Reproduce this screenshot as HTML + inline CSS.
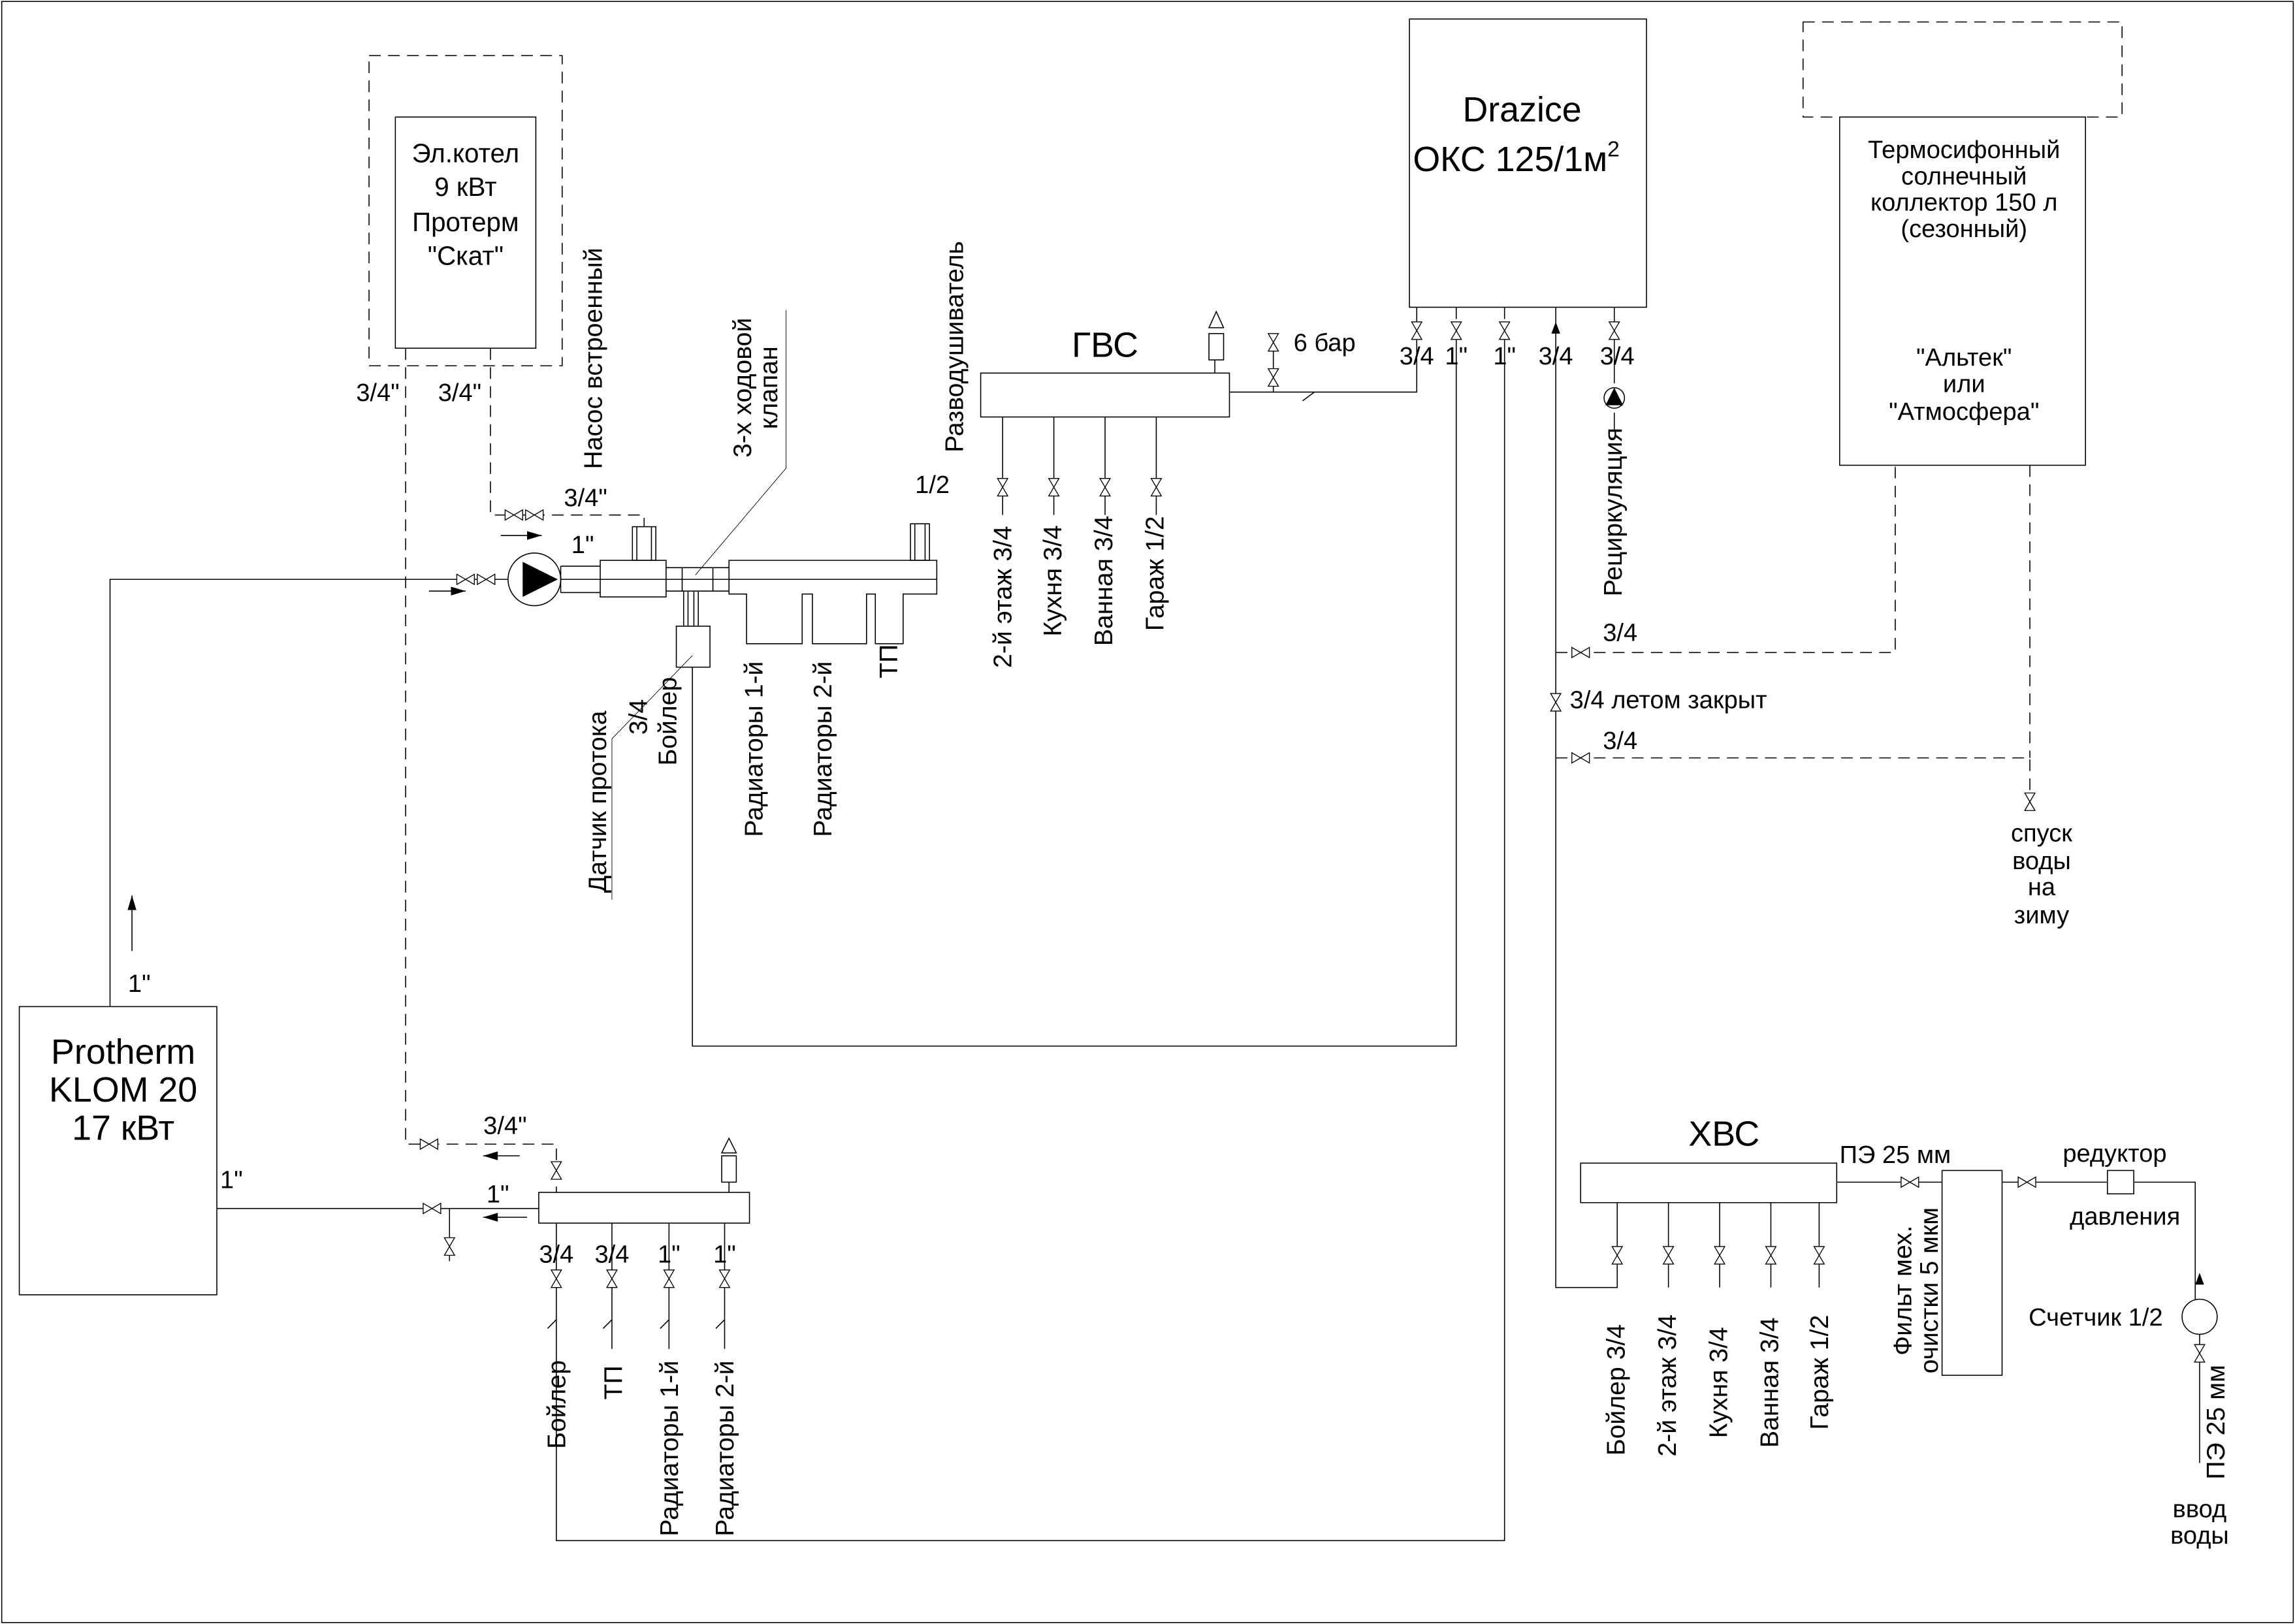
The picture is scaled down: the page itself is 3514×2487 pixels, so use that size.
<!DOCTYPE html>
<html><head><meta charset="utf-8"><style>
html,body{margin:0;padding:0;background:#fff}
svg{display:block}
text{font-family:"Liberation Sans",sans-serif;fill:#000}
</style></head><body>
<svg width="3514" height="2487" viewBox="0 0 1568 1110" xmlns="http://www.w3.org/2000/svg">
<defs>
<g id="vh"><path d="M-6,-3.5 L6,3.5 L6,-3.5 L-6,3.5 Z" fill="#fff" stroke="#000" stroke-width="0.6"/></g>
<g id="vv"><path d="M-3.5,-6 L3.5,6 L-3.5,6 L3.5,-6 Z" fill="#fff" stroke="#000" stroke-width="0.6"/></g>
</defs>
<g fill="none" stroke="#000" stroke-width="0.7">
<rect x="1" y="1" width="1566" height="1108"/>
<rect x="252" y="38" width="132" height="212" stroke-dasharray="8,5"/>
<rect x="270" y="80" width="96" height="158"/>
<path d="M277,238 V782 H380 V815" stroke-dasharray="8,5"/>
<path d="M335,238 V352 H440 V360" stroke-dasharray="8,5"/>
<path d="M75,688 V396 H347"/>
<circle cx="365" cy="396" r="18"/>
<path d="M383,387 H410 M383,405 H410 M383,387 V405"/>
<rect x="410" y="383" width="45" height="25"/>
<path d="M455,388 H498 M455,404 H498 M466,388 V404 M487,388 V404"/>
<path d="M498,383 H640 V406 H617 V440 H598 V406 H592 V440 H555 V406 H548 V440 H510 V406 H498 Z"/>
<path d="M383,396 H640"/>
<rect x="432" y="360" width="16" height="23"/>
<path d="M435,360 V383 M445,360 V383"/>
<rect x="622" y="358" width="13" height="25"/>
<path d="M625,358 V383 M632,358 V383"/>
<path d="M467,404 V428 M477,404 V428 M470,404 V428 M474,404 V428"/>
<rect x="462" y="428" width="23" height="28"/>
<path d="M475,393 L537,320 V212" stroke-width="0.4"/>
<path d="M473,448 L418,505 V615" stroke-width="0.4"/>
<path d="M473,456 V715 H995 V225"/>
<path d="M293,404 H318 M342,366 H370 M90,650 V612 M355,790 H330 M360,832 H330"/>
<rect x="13" y="688" width="135" height="197"/>
<path d="M148,826 H368 M307,826 V862"/>
<rect x="368" y="815" width="144" height="21"/>
<path d="M498,790 V815"/><rect x="493" y="790" width="10" height="18" fill="#fff"/>
<path d="M498,778 L493,788 H503 Z"/>
<path d="M380,836 V1053 H1028 V225"/>
<path d="M418,836 V922 M457,836 V922 M495,836 V922"/>
<path d="M374,908 L380,902 M412,908 L418,902 M451,908 L457,902 M489,908 L495,902"/>
<rect x="670" y="255" width="170" height="30"/>
<path d="M685,285 V352 M720,285 V352 M755,285 V352 M790,285 V352"/>
<path d="M830,246 V255"/><rect x="826" y="228" width="10" height="18"/><path d="M831,213 L826,224 H836 Z"/>
<path d="M840,268 H968 V215 M870,268 V228 M890,274 L898,268"/>
<rect x="963" y="13" width="162" height="197"/>
<path d="M968,210 V218 M995,210 V218 M1028,210 V218"/>
<path d="M1063,210 V880 H1105 V855 M1103,210 V262 M1103,282 V295"/>
<circle cx="1103" cy="272" r="7"/>
<path d="M1063,446 H1295 V318 M1063,518 H1387 V548 M1387,318 V518" stroke-dasharray="8,5"/>
<rect x="1232" y="15" width="218" height="65" stroke-dasharray="8,5"/>
<rect x="1257" y="80" width="168" height="238"/>
<rect x="1080" y="795" width="175" height="27"/>
<path d="M1140,822 V880 M1175,822 V880 M1210,822 V880 M1243,822 V880 M1105,822 V855"/>
<path d="M1255,808 H1327"/>
<rect x="1327" y="800" width="41" height="140"/>
<path d="M1368,808 H1440 M1458,808 H1500 V888 M1503,912 V1000"/>
<rect x="1440" y="800" width="18" height="16"/>
<circle cx="1503" cy="900" r="12"/>
</g>
<g fill="#000">
<path d="M357,384 L381,396 L357,408 Z"/>
<path d="M1097,277 L1103,265 L1109,277 Z"/>
<path d="M318,404 L308,401 L308,407 Z M370,366 L360,363 L360,369 Z M90,612 L87,622 L93,622 Z M330,790 L340,787 L340,793 Z M330,832 L340,829 L340,835 Z"/>
<path d="M1063,220 L1060,228 L1066,228 Z M1503,870 L1500,878 L1506,878 Z"/>
</g>
<use href="#vh" x="318" y="396"/><use href="#vh" x="332" y="396"/>
<use href="#vh" x="351" y="352"/><use href="#vh" x="365" y="352"/>
<use href="#vh" x="293" y="782"/><use href="#vh" x="295" y="826"/>
<use href="#vv" x="307" y="852"/><use href="#vv" x="380" y="800"/>
<use href="#vv" x="380" y="874"/><use href="#vv" x="418" y="874"/><use href="#vv" x="457" y="874"/><use href="#vv" x="495" y="874"/>
<use href="#vv" x="685" y="333"/><use href="#vv" x="720" y="333"/><use href="#vv" x="755" y="333"/><use href="#vv" x="790" y="333"/>
<use href="#vv" x="870" y="234"/><use href="#vv" x="870" y="258"/>
<use href="#vv" x="968" y="226"/><use href="#vv" x="995" y="226"/><use href="#vv" x="1028" y="226"/><use href="#vv" x="1103" y="226"/>
<use href="#vh" x="1080" y="446"/><use href="#vv" x="1063" y="480"/><use href="#vh" x="1080" y="518"/><use href="#vv" x="1387" y="548"/>
<use href="#vv" x="1105" y="858"/><use href="#vv" x="1140" y="858"/><use href="#vv" x="1175" y="858"/><use href="#vv" x="1210" y="858"/><use href="#vv" x="1243" y="858"/>
<use href="#vh" x="1305" y="808"/><use href="#vh" x="1385" y="808"/><use href="#vv" x="1503" y="925"/>
<g font-size="18" text-anchor="middle">
<text x="318" y="111">Эл.котел</text><text x="318" y="134">9 кВт</text><text x="318" y="158">Протерм</text><text x="318" y="181">"Скат"</text>
</g>
<g font-size="17" text-anchor="middle">
<text x="258" y="274">3/4"</text><text x="314" y="274">3/4"</text>
<text x="400" y="346">3/4"</text><text x="398" y="378">1"</text>
<text x="95" y="678">1"</text><text x="158" y="812">1"</text>
<text x="345" y="775">3/4"</text><text x="340" y="822">1"</text>
<text x="380" y="863">3/4</text><text x="418" y="863">3/4</text><text x="457" y="863">1"</text><text x="495" y="863">1"</text>
<text x="637" y="337">1/2</text>
<text x="905" y="240">6 бар</text>
<text x="968" y="249">3/4</text><text x="995" y="249">1"</text><text x="1028" y="249">1"</text><text x="1063" y="249">3/4</text><text x="1105" y="249">3/4</text>
<text x="1107" y="438">3/4</text><text x="1107" y="512">3/4</text>
<text x="1140" y="484">3/4 летом закрыт</text>
<text x="1395" y="575">спуск</text><text x="1395" y="594">воды</text><text x="1395" y="612">на</text><text x="1395" y="631">зиму</text>
<text x="1342" y="108">Термосифонный</text><text x="1342" y="126">солнечный</text><text x="1342" y="144">коллектор 150 л</text><text x="1342" y="162">(сезонный)</text>
<text x="1342" y="250">"Альтек"</text><text x="1342" y="268">или</text><text x="1342" y="287">"Атмосфера"</text>
<text x="1295" y="795">ПЭ 25 мм</text>
<text x="1445" y="794">редуктор</text><text x="1452" y="837">давления</text>
<text x="1432" y="906">Счетчик 1/2</text>
<text x="1503" y="1037">ввод</text><text x="1503" y="1055">воды</text>
</g>
<g font-size="24" text-anchor="middle">
<text x="84" y="727">Protherm</text><text x="84" y="753">KLOM 20</text><text x="84" y="779">17 кВт</text>
<text x="755" y="244">ГВС</text><text x="1178" y="783">ХВС</text>
<text x="1040" y="83">Drazice</text><text x="1036" y="117">ОКС 125/1м<tspan font-size="15" dy="-10">2</tspan></text>
</g>
<g font-size="17.5" text-anchor="middle">
<text transform="translate(411,245) rotate(-90)">Насос встроенный</text>
<text transform="translate(513,265) rotate(-90)">3-х ходовой</text>
<text transform="translate(531,265) rotate(-90)">клапан</text>
<text transform="translate(658,237) rotate(-90)">Разводушиватель</text>
<text transform="translate(414,548) rotate(-90)">Датчик протока</text>
<text transform="translate(442,490) rotate(-90)">3/4</text>
<text transform="translate(462,493) rotate(-90)">Бойлер</text>
<text transform="translate(521,512) rotate(-90)">Радиаторы 1-й</text>
<text transform="translate(568,512) rotate(-90)">Радиаторы 2-й</text>
<text transform="translate(613,452) rotate(-90)">ТП</text>
<text transform="translate(691,408) rotate(-90)">2-й этаж 3/4</text>
<text transform="translate(725,397) rotate(-90)">Кухня 3/4</text>
<text transform="translate(760,397) rotate(-90)">Ванная 3/4</text>
<text transform="translate(795,392) rotate(-90)">Гараж 1/2</text>
<text transform="translate(1108,350) rotate(-90)">Рециркуляция</text>
<text transform="translate(386,960) rotate(-90)">Бойлер</text>
<text transform="translate(425,945) rotate(-90)">ТП</text>
<text transform="translate(463,990) rotate(-90)">Радиаторы 1-й</text>
<text transform="translate(501,990) rotate(-90)">Радиаторы 2-й</text>
<text transform="translate(1110,950) rotate(-90)">Бойлер 3/4</text>
<text transform="translate(1145,947) rotate(-90)">2-й этаж 3/4</text>
<text transform="translate(1180,945) rotate(-90)">Кухня 3/4</text>
<text transform="translate(1215,945) rotate(-90)">Ванная 3/4</text>
<text transform="translate(1249,938) rotate(-90)">Гараж 1/2</text>
<text transform="translate(1306,882) rotate(-90)">Фильт мех.</text>
<text transform="translate(1324,882) rotate(-90)">очистки 5 мкм</text>
<text transform="translate(1520,972) rotate(-90)">ПЭ 25 мм</text>
</g>
</svg>
</body></html>
